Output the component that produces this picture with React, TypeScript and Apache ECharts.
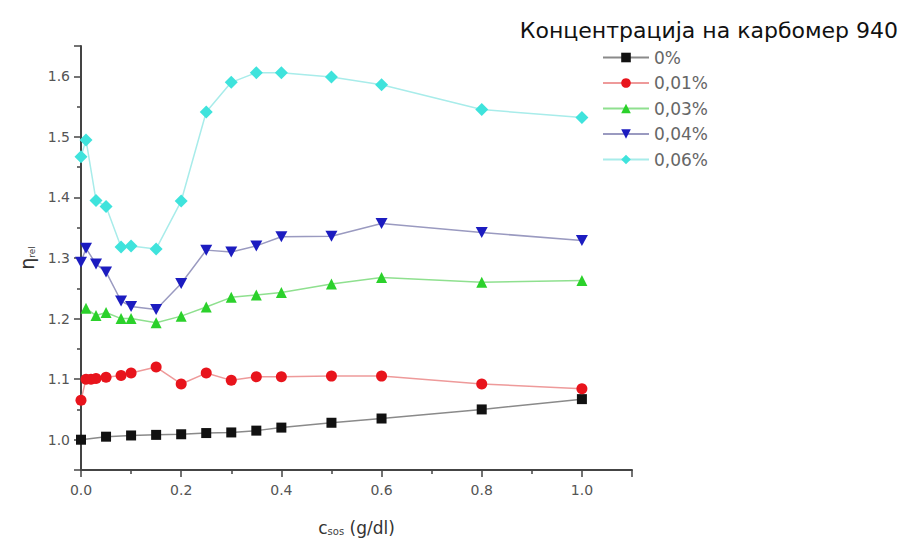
import React, { useEffect, useRef } from "react";
import * as echarts from "echarts";

const seriesNames = ["0%", "0,01%", "0,03%", "0,04%", "0,06%"];

const x0 = [0, 0.05, 0.1, 0.15, 0.2, 0.25, 0.3, 0.35, 0.4, 0.5, 0.6, 0.8, 1.0];
const y0 = [1.0, 1.005, 1.007, 1.008, 1.009, 1.011, 1.012, 1.015, 1.02, 1.028, 1.035, 1.05, 1.067];

const x1 = [0, 0.01, 0.02, 0.03, 0.05, 0.08, 0.1, 0.15, 0.2, 0.25, 0.3, 0.35, 0.4, 0.5, 0.6, 0.8, 1.0];
const y1 = [1.065, 1.1, 1.1, 1.101, 1.103, 1.106, 1.11, 1.12, 1.092, 1.11, 1.098, 1.104, 1.104, 1.105, 1.105, 1.092, 1.084];

const x2 = [0.01, 0.03, 0.05, 0.08, 0.1, 0.15, 0.2, 0.25, 0.3, 0.35, 0.4, 0.5, 0.6, 0.8, 1.0];
const y2 = [1.217, 1.205, 1.21, 1.2, 1.2, 1.193, 1.204, 1.219, 1.235, 1.239, 1.243, 1.257, 1.268, 1.26, 1.263];

const x3 = [0, 0.01, 0.03, 0.05, 0.08, 0.1, 0.15, 0.2, 0.25, 0.3, 0.35, 0.4, 0.5, 0.6, 0.8, 1.0];
const y3 = [1.293, 1.316, 1.29, 1.277, 1.229, 1.22, 1.215, 1.258, 1.313, 1.31, 1.32, 1.335, 1.336, 1.357, 1.342, 1.329];

const x4 = [0, 0.01, 0.03, 0.05, 0.08, 0.1, 0.15, 0.2, 0.25, 0.3, 0.35, 0.4, 0.5, 0.6, 0.8, 1.0];
const y4 = [1.467, 1.495, 1.395, 1.385, 1.318, 1.32, 1.315, 1.394, 1.541, 1.59, 1.606, 1.606, 1.599, 1.586, 1.545, 1.532];

const allX = [x0, x1, x2, x3, x4];
const allY = [y0, y1, y2, y3, y4];

const markerColors = ["#111111", "#e8141c", "#2bd12b", "#1c1cc0", "#3fe3dc"];
const lineColors = ["#8a8a8a", "#ee9a9a", "#8fe08f", "#9a9ac0", "#a8ecea"];
const symbols = ["rect", "circle", "triangle", "path://M0,0 L10,0 L5,9 Z", "diamond"];
const symbolSizes = [10, 11, 11, [12, 11], 13];

const title = "Концентрација на карбомер 940";

export default function App() {
  const ref = useRef<HTMLDivElement>(null);
  useEffect(() => {
    if (!ref.current) return;
    const chart = echarts.init(ref.current, undefined, { renderer: "svg" });
    const font = "DejaVu Sans, sans-serif";
    const series = seriesNames.map((name, i) => ({
      name,
      type: "line",
      data: allX[i].map((x, j) => [x, allY[i][j]]),
      symbol: symbols[i],
      symbolSize: symbolSizes[i],
      showSymbol: true,
      lineStyle: { color: lineColors[i], width: 1.5 },
      itemStyle: { color: markerColors[i] },
      z: 2 + i,
    }));
    chart.setOption({
      animation: false,
      backgroundColor: "#ffffff",
      title: {
        text: title,
        right: 3,
        top: 14,
        textStyle: { fontFamily: font, fontSize: 22, fontWeight: "normal", color: "#111" },
      },
      legend: {
        orient: "vertical",
        left: 597,
        top: 44,
        itemWidth: 46,
        itemHeight: 12,
        itemGap: 8.5,
        data: seriesNames,
        textStyle: { fontFamily: font, fontSize: 17, color: "#666" },
      },
      grid: { left: 81, right: 274, top: 46, bottom: 73, containLabel: false },
      xAxis: {
        type: "value",
        min: 0,
        max: 1.1,
        interval: 0.2,
        name: "{a|c}{b|sos}{a| (g/dl)}",
        nameLocation: "middle",
        nameGap: 49,
        nameTextStyle: {
          fontFamily: font,
          color: "#333",
          rich: {
            a: { fontFamily: font, fontSize: 17, color: "#333", verticalAlign: "bottom" },
            b: { fontFamily: font, fontSize: 10, color: "#444", verticalAlign: "bottom" },
          },
        },
        axisLine: { show: true, onZero: false, lineStyle: { color: "#444", width: 2 } },
        axisTick: { show: true, inside: false, length: 7, lineStyle: { color: "#444", width: 1.5 } },
        minorTick: { show: true, splitNumber: 2, length: 4, lineStyle: { color: "#444", width: 1.5 } },
        splitLine: { show: false },
        axisLabel: {
          fontFamily: font,
          fontSize: 14,
          color: "#555",
          margin: 13,
          formatter: (v: number) => (v > 1.05 ? "" : v.toFixed(1)),
        },
      },
      yAxis: {
        type: "value",
        min: 0.95,
        max: 1.65,
        splitNumber: 7,
        name: "{a|η}{b|rel}",
        nameLocation: "middle",
        nameRotate: 90,
        nameGap: 41,
        nameTextStyle: {
          fontFamily: font,
          color: "#333",
          rich: {
            a: { fontFamily: font, fontSize: 19, color: "#333", verticalAlign: "bottom" },
            b: { fontFamily: font, fontSize: 9, color: "#444", verticalAlign: "bottom" },
          },
        },
        axisLine: { show: true, onZero: false, lineStyle: { color: "#444", width: 2 } },
        axisTick: { show: true, inside: false, length: 7, lineStyle: { color: "#444", width: 1.5 } },
        minorTick: { show: true, splitNumber: 2, length: 4, lineStyle: { color: "#444", width: 1.5 } },
        splitLine: { show: false },
        axisLabel: {
          fontFamily: font,
          fontSize: 14,
          color: "#555",
          margin: 11,
          formatter: (v: number) => {
            const r = Math.round(v * 100);
            return r % 10 === 0 ? v.toFixed(1) : "";
          },
        },
      },
      series,
    });
    return () => chart.dispose();
  }, []);
  return (
    <div
      ref={ref}
      style={{ position: "absolute", left: 0, top: 0, width: 906, height: 543 }}
    />
  );
}
